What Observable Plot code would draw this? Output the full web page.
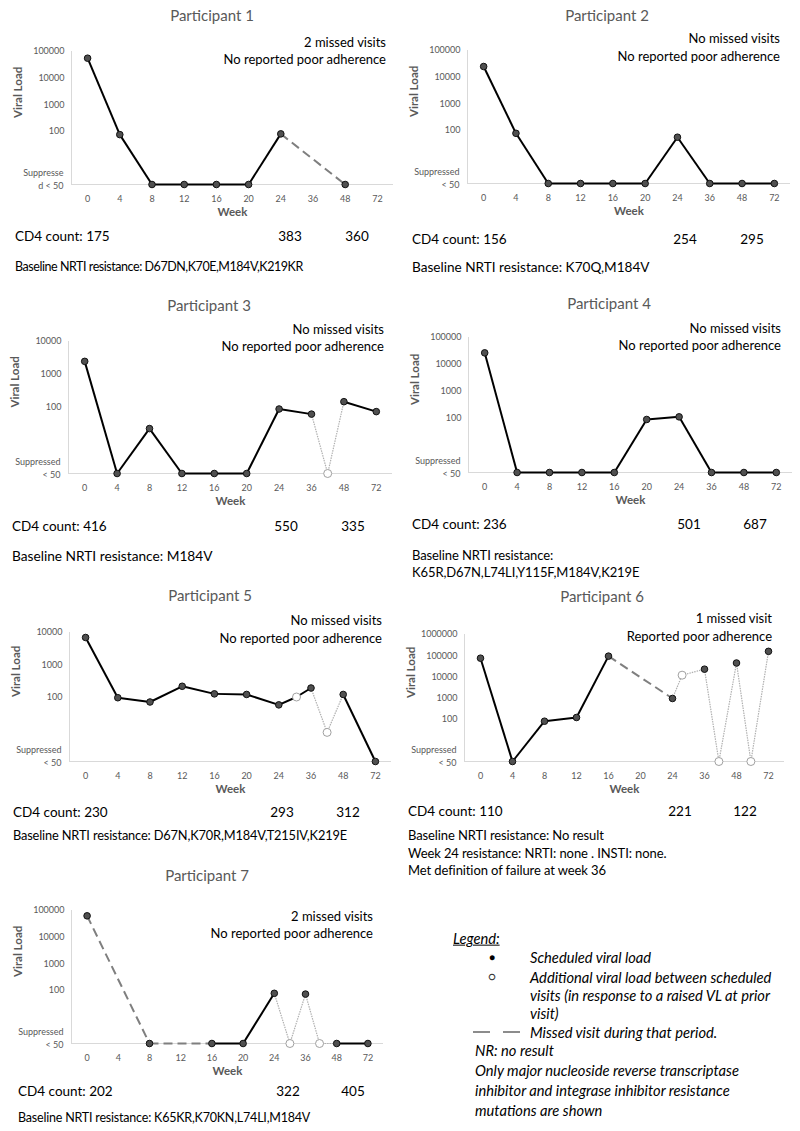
<!DOCTYPE html>
<html><head><meta charset="utf-8">
<script src="https://cdn.jsdelivr.net/npm/d3@7"></script>
<script src="https://cdn.jsdelivr.net/npm/@observablehq/plot@0.6"></script>
<style>
body{margin:0;background:#fff;}
#fig{position:relative;width:800px;height:1131px;font-family:Lato,"Open Sans",sans-serif;overflow:hidden;background:#fff;}
.t{position:absolute;white-space:nowrap;line-height:1;}
.title{font-size:15px;color:#595959;transform:translate(-50%,-50%);}
.ann{font-size:13px;color:#000;transform:translate(-100%,-50%);}
.txt{font-size:13.5px;color:#000;transform:translateY(-50%);}
.num{font-size:13.5px;color:#000;transform:translate(-50%,-50%);}
.leg{font-size:14.7px;font-style:italic;color:#000;transform:translateY(-50%);}
.plotwrap{position:absolute;}
</style></head><body><div id="fig"></div>
<script>
// ---------- DATA ----------
const weeks = ["0","4","8","12","16","20","24","36","48","72"];
const SUP = 1; // plotted level for "Suppressed < 50"
const titles = ["Participant 1","Participant 2","Participant 3","Participant 4","Participant 5","Participant 6","Participant 7"];
const adherence = [
  ["2 missed visits","No reported poor adherence"],
  ["No missed visits","No reported poor adherence"],
  ["No missed visits","No reported poor adherence"],
  ["No missed visits","No reported poor adherence"],
  ["No missed visits","No reported poor adherence"],
  ["1 missed visit","Reported poor adherence"],
  ["2 missed visits","No reported poor adherence"]
];
const cd4 = [[175,383,360],[156,254,295],[416,550,335],[236,501,687],[230,293,312],[110,221,122],[202,322,405]];
const resistance = [
  ["Baseline NRTI resistance: D67DN,K70E,M184V,K219KR"],
  ["Baseline NRTI resistance: K70Q,M184V"],
  ["Baseline NRTI resistance: M184V"],
  ["Baseline NRTI resistance:","K65R,D67N,L74LI,Y115F,M184V,K219E"],
  ["Baseline NRTI resistance: D67N,K70R,M184V,T215IV,K219E"],
  ["Baseline NRTI resistance: No result","Week 24 resistance: NRTI: none . INSTI: none.","Met definition of failure at week 36"],
  ["Baseline NRTI resistance: K65KR,K70KN,L74LI,M184V"]
];
const yTop = [1e5,1e5,1e4,1e5,1e4,1e6,1e5];
const suppLabels = ["Suppresse\nd < 50","Suppressed\n< 50","Suppressed\n< 50","Suppressed\n< 50","Suppressed\n< 50","Suppressed\n< 50","Suppressed\n< 50"];
// visits: [position on week axis (index), viral load, kind s=scheduled x=additional]
const p1Visits = [[0,56000,"s"],[1,75,"s"],[2,SUP,"s"],[3,SUP,"s"],[4,SUP,"s"],[5,SUP,"s"],[6,80,"s"],[8,SUP,"s"]];
const p2Visits = [[0,25000,"s"],[1,77,"s"],[2,SUP,"s"],[3,SUP,"s"],[4,SUP,"s"],[5,SUP,"s"],[6,55,"s"],[7,SUP,"s"],[8,SUP,"s"],[9,SUP,"s"]];
const p3Visits = [[0,2500,"s"],[1,SUP,"s"],[2,23,"s"],[3,SUP,"s"],[4,SUP,"s"],[5,SUP,"s"],[6,90,"s"],[7,63,"s"],[7.5,SUP,"x"],[8,150,"s"],[9,75,"s"]];
const p4Visits = [[0,27000,"s"],[1,SUP,"s"],[2,SUP,"s"],[3,SUP,"s"],[4,SUP,"s"],[5,92,"s"],[6,115,"s"],[7,SUP,"s"],[8,SUP,"s"],[9,SUP,"s"]];
const p5Visits = [[0,7000,"s"],[1,95,"s"],[2,70,"s"],[3,215,"s"],[4,125,"s"],[5,120,"s"],[6,57,"s"],[6.55,100,"x"],[7,190,"s"],[7.5,8,"x"],[8,120,"s"],[9,SUP,"s"]];
const p6Visits = [[0,76000,"s"],[1,SUP,"s"],[2,80,"s"],[3,120,"s"],[4,95000,"s"],[6,950,"s"],[6.3,12000,"x"],[7,23000,"s"],[7.45,SUP,"x"],[8,45000,"s"],[8.45,SUP,"x"],[9,160000,"s"]];
const p7Visits = [[0,63000,"s"],[2,SUP,"s"],[4,SUP,"s"],[5,SUP,"s"],[6,77,"s"],[6.5,SUP,"x"],[7,72,"s"],[7.45,SUP,"x"],[8,SUP,"s"],[9,SUP,"s"]];
// links between consecutive visits: s=solid, d=missed visit (dashed), g=additional (light grey)
const p1Links = "ssssssd";
const p2Links = "sssssssss";
const p3Links = "sssssssggs";
const p4Links = "sssssssss";
const p5Links = "ssssssssggs";
const p6Links = "ssssdgggggg";
const p7Links = "ddssggggs";
const visitsAll = [p1Visits,p2Visits,p3Visits,p4Visits,p5Visits,p6Visits,p7Visits];
const linksAll = [p1Links,p2Links,p3Links,p4Links,p5Links,p6Links,p7Links];
const legendTitle = "Legend:";
const legendItems = ["Scheduled viral load","Additional viral load between scheduled","visits (in response to a raised VL at prior","visit)","Missed visit during that period."];
const notes = ["NR: no result","Only major nucleoside reverse transcriptase","inhibitor and integrase inhibitor resistance","mutations are shown"];

// ---------- LAYOUT ----------
const layout = [
  {col:0,  titleX:212, titleY:15,  annR:386, annY:[42,59],   top:51,  bottom:184,  left:71,  right:393, textX:15,  cd4Y:237, cd4X:[290,357], baseY:[267], baseFs:12.5, baseLs:-0.45},
  {col:400,titleX:607, titleY:15,  annR:780, annY:[38,56],   top:50,  bottom:183,  left:467, right:790, textX:412, cd4Y:240, cd4X:[685,752], baseY:[268], baseFs:13.6, baseLs:0},
  {col:0,  titleX:209, titleY:305, annR:384, annY:[329,346], top:341, bottom:473,  left:68,  right:392, textX:12,  cd4Y:527, cd4X:[286,353], baseY:[556], baseFs:13.7, baseLs:0},
  {col:400,titleX:609, titleY:303, annR:781, annY:[328,345], top:337, bottom:472,  left:468, right:792, textX:412, cd4Y:525, cd4X:[689,755], baseY:[555,572], baseFs:13, baseLs:-0.1},
  {col:0,  titleX:210, titleY:595, annR:382, annY:[620,638], top:632, bottom:761,  left:69,  right:391, textX:13,  cd4Y:813, cd4X:[282,348], baseY:[835], baseFs:12.8, baseLs:-0.15},
  {col:400,titleX:602, titleY:596, annR:772, annY:[618,636], top:634, bottom:761,  left:464, right:784, textX:408, cd4Y:812, cd4X:[680,745], baseY:[835,853,870], baseFs:13, baseLs:-0.1},
  {col:0,  titleX:207, titleY:875, annR:373, annY:[916,933], top:910, bottom:1043, left:71,  right:383, textX:18,  cd4Y:1092,cd4X:[288,353], baseY:[1118], baseFs:12.5, baseLs:-0.2}
];

const fig = document.getElementById("fig");
function addText(cls, text, x, y){
  const d = document.createElement("div");
  d.className = "t " + cls;
  d.textContent = text;
  d.style.left = x + "px"; d.style.top = y + "px";
  fig.appendChild(d);
  return d;
}

function panel(i){
  const L = layout[i];
  const visits = visitsAll[i], links = linksAll[i];
  const segs = [];
  for (let k = 0; k < visits.length - 1; k++) {
    segs.push({x1: visits[k][0], y1: visits[k][1], x2: visits[k+1][0], y2: visits[k+1][1], type: links[k]});
  }
  const sched = visits.filter(v => v[2] === "s");
  const extra = visits.filter(v => v[2] === "x");
  const mt = 12, mb = 42;
  const h = L.bottom - L.top;
  const ticks = [];
  for (let v = 100; v <= yTop[i]; v *= 10) ticks.push(v);
  const plot = Plot.plot({
    width: 400, height: mt + h + mb,
    marginTop: mt, marginBottom: mb,
    marginLeft: L.left - L.col, marginRight: L.col + 400 - L.right,
    x: {type: "linear", domain: [-0.5, 9.5], axis: null},
    y: {type: "log", domain: [1, yTop[i]], axis: null},
    style: {fontFamily: "Lato, sans-serif", overflow: "visible", background: "transparent"},
    marks: [
      Plot.ruleY([1], {stroke: "#d9d9d9", strokeWidth: 1}),
      Plot.ruleX([-0.5], {stroke: "#d9d9d9", strokeWidth: 1}),
      Plot.axisY(ticks, {tickSize: 0, tickPadding: 7, tickFormat: d => String(d), fontSize: 9, fill: "#595959", label: null}),
      Plot.text([suppLabels[i]], {x: -0.5, y: 1, text: d => d, textAnchor: "end", lineAnchor: "bottom", dx: -8, dy: 4, fontSize: 9, fill: "#595959", lineHeight: 1.4}),
      Plot.axisX(d3.range(10), {tickSize: 0, tickPadding: 11, tickFormat: d => weeks[d], fontSize: 9, fill: "#595959", label: null}),
      Plot.text(["Week"], {text: d => d, frameAnchor: "bottom", dy: 31, fontSize: 11.5, fontWeight: "bold", fill: "#595959"}),
      Plot.text(["Viral Load"], {text: d => d, frameAnchor: "left", rotate: -90, dx: -53, fontSize: 11.5, fontWeight: "bold", fill: "#595959"}),
      Plot.link(segs.filter(s => s.type === "g"), {x1: "x1", y1: "y1", x2: "x2", y2: "y2", stroke: "#b0b0b0", strokeWidth: 1.2, strokeDasharray: "1.5,1"}),
      Plot.link(segs.filter(s => s.type === "d"), {x1: "x1", y1: "y1", x2: "x2", y2: "y2", stroke: "#7f7f7f", strokeWidth: 2, strokeDasharray: "9,5"}),
      Plot.link(segs.filter(s => s.type === "s"), {x1: "x1", y1: "y1", x2: "x2", y2: "y2", stroke: "#000", strokeWidth: 2}),
      Plot.dot(extra, {x: d => d[0], y: d => d[1], r: 4, fill: "white", stroke: "#a0a0a0", strokeWidth: 1}),
      Plot.dot(sched, {x: d => d[0], y: d => d[1], r: 3.3, fill: "#505050", stroke: "#111", strokeWidth: 1})
    ]
  });
  const wrap = document.createElement("div");
  wrap.className = "plotwrap";
  wrap.style.left = L.col + "px";
  wrap.style.top = (L.top - mt) + "px";
  wrap.appendChild(plot);
  fig.appendChild(wrap);

  addText("title", titles[i], L.titleX, L.titleY);
  adherence[i].forEach((s, k) => addText("ann", s, L.annR, L.annY[k]));
  addText("txt", "CD4 count: " + cd4[i][0], L.textX, L.cd4Y);
  addText("num", String(cd4[i][1]), L.cd4X[0], L.cd4Y);
  addText("num", String(cd4[i][2]), L.cd4X[1], L.cd4Y);
  resistance[i].forEach((s, k) => {
    const d = addText("txt", s, L.textX, L.baseY[k]);
    d.style.fontSize = L.baseFs + "px";
    d.style.letterSpacing = L.baseLs + "px";
  });
}
for (let i = 0; i < 7; i++) panel(i);

// ---------- LEGEND ----------
const lt = addText("leg", legendTitle, 453, 938); lt.style.textDecoration = "underline";
const b1 = addText("leg", "\u25CF", 489, 957); b1.style.fontStyle = "normal"; b1.style.fontSize = "10px";
const b2 = addText("leg", "\u25CB", 488, 977); b2.style.fontStyle = "normal"; b2.style.fontSize = "12px"; b2.style.color = "#333";
addText("leg", legendItems[0], 530, 957);
addText("leg", legendItems[1], 530, 977);
addText("leg", legendItems[2], 530, 995);
addText("leg", legendItems[3], 530, 1013);
addText("leg", legendItems[4], 530, 1032);
[[473,490],[503,520]].forEach(([a,b]) => {
  const d = document.createElement("div");
  d.style.cssText = `position:absolute;left:${a}px;top:1031px;width:${b-a}px;height:2px;background:#8c8c8c;`;
  fig.appendChild(d);
});
addText("leg", notes[0], 475, 1050);
addText("leg", notes[1], 475, 1070);
addText("leg", notes[2], 475, 1090);
addText("leg", notes[3], 475, 1110);
</script></body></html>
